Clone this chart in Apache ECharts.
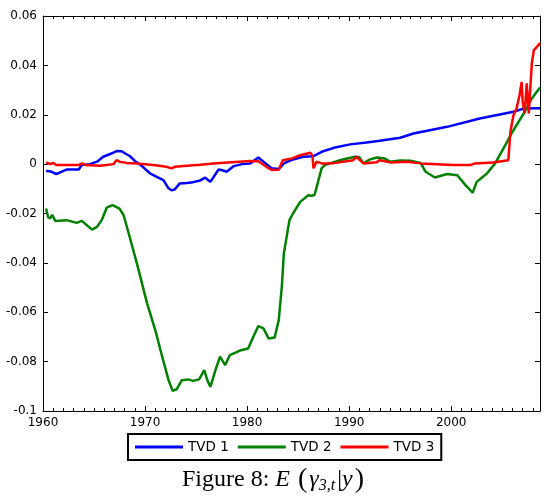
<!DOCTYPE html>
<html>
<head>
<meta charset="utf-8">
<script src="https://cdn.jsdelivr.net/npm/echarts@6/dist/echarts.min.js"></script>
<style>
  html, body { margin: 0; padding: 0; background: #fff; }
  #chart { width: 550px; height: 498px; }
</style>
</head>
<body>
<div id="chart"></div>
<script>
// TVD 1 (blue)
const tvd1Years = [1960.3, 1960.8, 1961.3, 1961.8, 1962.3, 1963.5, 1963.8, 1964.6, 1965.3, 1965.9,
  1966.7, 1967.2, 1967.7, 1968.1, 1968.5, 1969.0, 1969.7, 1970.5, 1971.1, 1971.8,
  1972.3, 1972.6, 1972.9, 1973.4, 1974.1, 1974.7, 1975.4, 1975.9, 1976.4, 1977.2,
  1977.5, 1978.0, 1978.7, 1979.5, 1980.3, 1981.1, 1981.9, 1982.4, 1983.1, 1983.6,
  1984.5, 1985.5, 1986.5, 1987.3, 1988.5, 1990.1, 1991.7, 1993.0, 1995.0, 1996.3,
  1999.6, 2002.8, 2006.1, 2007.1, 2008.7];
const tvd1Values = [-0.0028, -0.003, -0.004, -0.0031, -0.0022, -0.0022, -0.0004, 0.0, 0.001, 0.003,
  0.0043, 0.0053, 0.0052, 0.0042, 0.0033, 0.0013, -0.0008, -0.0038, -0.0051, -0.0065,
  -0.0098, -0.0106, -0.0103, -0.0078, -0.0076, -0.0073, -0.0066, -0.0055, -0.0072, -0.0022,
  -0.0024, -0.0031, -0.0008, 0.0, 0.0003, 0.0027, 0.0, -0.0017, -0.002, 0.0003,
  0.0019, 0.003, 0.0032, 0.005, 0.0066, 0.008, 0.0088, 0.0095, 0.0107, 0.0124,
  0.0151, 0.0185, 0.0212, 0.0225, 0.0226];

// TVD 2 (green)
const tvd2Years = [1960.3, 1960.5, 1960.7, 1960.9, 1961.2, 1962.3, 1963.3, 1963.8, 1964.8, 1965.3,
  1965.75, 1966.25, 1966.8, 1967.5, 1967.9, 1968.4, 1969.2, 1970.2, 1971.0, 1971.6,
  1972.3, 1972.7, 1973.1, 1973.6, 1974.25, 1974.7, 1975.3, 1975.8, 1976.1, 1976.4,
  1976.9, 1977.35, 1977.85, 1978.3, 1979.3, 1980.1, 1980.6, 1981.1, 1981.6, 1982.1,
  1982.7, 1983.1, 1983.4, 1983.6, 1983.9, 1984.15, 1984.5, 1985.2, 1986.0, 1986.3,
  1986.6, 1986.8, 1987.3, 1987.6, 1989.1, 1990.0, 1990.6, 1991.0, 1991.4, 1992.0,
  1992.7, 1993.5, 1994.0, 1995.0, 1996.0, 1997.0, 1997.5, 1998.4, 1999.6, 2000.6,
  2001.4, 2002.1, 2002.5, 2003.5, 2004.3, 2005.3, 2006.0, 2007.1, 2007.9, 2008.7];
const tvd2Values = [-0.018, -0.0215, -0.022, -0.0205, -0.023, -0.0227, -0.0238, -0.023, -0.0265, -0.0254,
  -0.0227, -0.0176, -0.0166, -0.018, -0.0207, -0.0281, -0.0402, -0.0564, -0.0672, -0.0767,
  -0.0875, -0.0918, -0.0912, -0.0875, -0.0872, -0.0878, -0.0872, -0.0834, -0.0875, -0.0902,
  -0.0834, -0.078, -0.0814, -0.0774, -0.0755, -0.0747, -0.07, -0.0656, -0.0665, -0.0706,
  -0.0702, -0.0632, -0.0497, -0.0362, -0.0288, -0.0227, -0.02, -0.0153, -0.0126, -0.0128,
  -0.0125, -0.0095, -0.0017, -0.0004, 0.0016, 0.0025, 0.003, 0.0028, 0.0003, 0.0018,
  0.0027, 0.0023, 0.001, 0.0015, 0.0014, 0.0005, -0.0031, -0.0054, -0.004, -0.0045,
  -0.0085, -0.0116, -0.0072, -0.0038, 0.0003, 0.0077, 0.0131, 0.0205, 0.0266, 0.031];

// TVD 3 (red)
const tvd3Years = [1960.3, 1960.7, 1961.0, 1961.3, 1963.5, 1963.8, 1964.2, 1965.6, 1966.9, 1967.2,
  1967.5, 1968.2, 1969.2, 1970.8, 1972.1, 1972.6, 1972.9, 1974.1, 1975.4, 1977.0,
  1980.3, 1981.1, 1981.9, 1982.4, 1983.1, 1983.5, 1984.4, 1985.2, 1986.2, 1986.4,
  1986.5, 1986.8, 1987.3, 1988.5, 1990.4, 1990.7, 1991.4, 1992.7, 1993.0, 1994.0,
  1995.7, 1997.0, 2000.2, 2001.9, 2002.3, 2004.1, 2005.6, 2005.8, 2006.1, 2006.4,
  2006.7, 2006.9, 2007.0, 2007.2, 2007.4, 2007.6, 2007.9, 2008.1, 2008.4, 2008.7];
const tvd3Values = [0.0007, 0.0, 0.0005, -0.0004, -0.0004, 0.0003, -0.0004, -0.0007, 0.0, 0.0016,
  0.001, 0.0005, 0.0003, -0.0004, -0.0011, -0.0017, -0.0011, -0.0007, -0.0003, 0.0004,
  0.0013, 0.0012, -0.0011, -0.0024, -0.0023, 0.0016, 0.0023, 0.0036, 0.0046, 0.0036,
  -0.0017, 0.001, 0.0003, 0.0004, 0.0016, 0.003, 0.0003, 0.0008, 0.0016, 0.0007,
  0.001, 0.0003, -0.0004, -0.0004, 0.0003, 0.0007, 0.0016, 0.0131, 0.0198, 0.0225,
  0.028, 0.0333, 0.0255, 0.0205, 0.0327, 0.0205, 0.0408, 0.0462, 0.0475, 0.049];

const seriesNames = ['TVD 1', 'TVD 2', 'TVD 3'];
const seriesColors = ['#0000ff', '#008000', '#ff0000'];

function zip(xs, ys) {
  return xs.map((x, i) => [x, ys[i]]);
}

const myChart = echarts.init(document.getElementById('chart'));

const tickFont = { fontFamily: 'DejaVu Sans', fontSize: 12, color: '#000' };

function xAxisCfg(pos) {
  return {
    type: 'value',
    position: pos,
    min: 1960,
    max: 2008.7,
    interval: 10,
    axisLine: { show: true, onZero: false, lineStyle: { color: '#000', width: 1 } },
    axisTick: { show: true, inside: true, length: 5, lineStyle: { color: '#000' } },
    minorTick: { show: true, splitNumber: 10, length: 3, lineStyle: { color: '#000' } },
    axisLabel: Object.assign({
      show: pos === 'bottom',
      margin: 6,
      showMaxLabel: false,
      formatter: (v) => String(v)
    }, tickFont),
    splitLine: { show: false }
  };
}

function yAxisCfg(pos) {
  return {
    type: 'value',
    position: pos,
    min: -0.1,
    max: 0.06,
    interval: 0.02,
    axisLine: { show: true, onZero: false, lineStyle: { color: '#000', width: 1 } },
    axisTick: { show: true, inside: true, length: 5, lineStyle: { color: '#000' } },
    axisLabel: Object.assign({ show: pos === 'left', margin: 6 }, tickFont),
    splitLine: { show: false }
  };
}

const serif = 'Liberation Serif';

const option = {
  animation: false,
  backgroundColor: '#fff',
  grid: { left: 43, right: 10, top: 16, bottom: 87 },
  title: {
    left: 182,
    top: 466,
    padding: 0,
    text: '{n|Figure 8: }{i|E}{n| }{p|(}{i|γ}{s|3,t}{n||}{i|y}{p|)}',
    textStyle: {
      rich: {
        n: { fontFamily: serif, fontSize: 24, fontWeight: 'normal', color: '#000' },
        i: { fontFamily: serif, fontSize: 24, fontWeight: 'normal', fontStyle: 'italic', color: '#000' },
        p: { fontFamily: serif, fontSize: 28, fontWeight: 'normal', color: '#000', padding: [0, 2] },
        s: { fontFamily: serif, fontSize: 16, fontWeight: 'normal', fontStyle: 'italic', color: '#000', padding: [12, 2, 0, 0] }
      }
    }
  },
  legend: {
    data: seriesNames,
    left: 128,
    top: 434,
    padding: [6, 7],
    itemGap: 9,
    itemWidth: 48,
    itemHeight: 3,
    icon: 'rect',
    borderColor: '#000',
    borderWidth: 2,
    textStyle: { fontFamily: 'DejaVu Sans', fontSize: 13.5, color: '#000' }
  },
  xAxis: [xAxisCfg('bottom'), xAxisCfg('top')],
  yAxis: [yAxisCfg('left'), yAxisCfg('right')],
  series: [
    { x: tvd1Years, y: tvd1Values },
    { x: tvd2Years, y: tvd2Values },
    { x: tvd3Years, y: tvd3Values }
  ].map((s, i) => ({
    name: seriesNames[i],
    type: 'line',
    xAxisIndex: 0,
    yAxisIndex: 0,
    data: zip(s.x, s.y),
    symbol: 'none',
    color: seriesColors[i],
    lineStyle: { width: 2.5, color: seriesColors[i] }
  }))
};

myChart.setOption(option);
</script>
</body>
</html>
